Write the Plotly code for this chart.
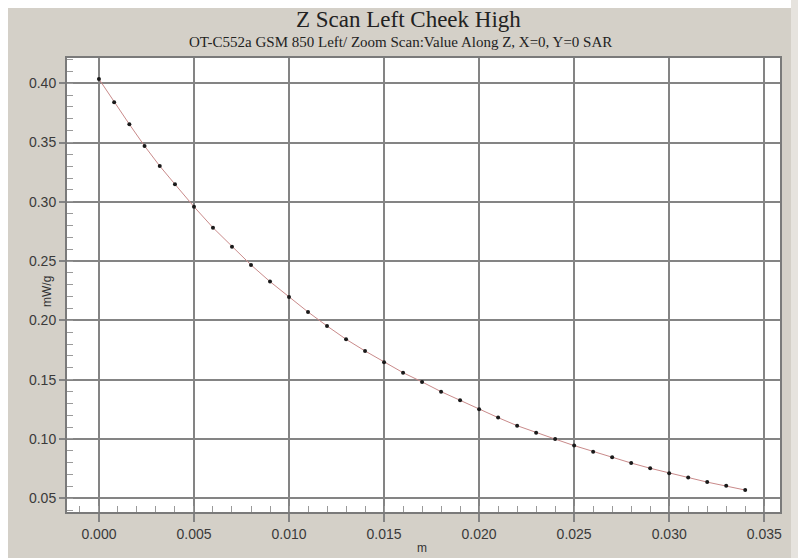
import plotly.graph_objects as go

# Data
z_m = [0.0, 0.0008, 0.0016, 0.0024, 0.0032, 0.0040, 0.005, 0.006, 0.007, 0.008,
       0.009, 0.010, 0.011, 0.012, 0.013, 0.014, 0.015, 0.016, 0.017, 0.018,
       0.019, 0.020, 0.021, 0.022, 0.023, 0.024, 0.025, 0.026, 0.027, 0.028,
       0.029, 0.030, 0.031, 0.032, 0.033, 0.034]
sar = [0.4036, 0.3840, 0.3654, 0.3471, 0.3302, 0.3148, 0.2959, 0.2782, 0.2622, 0.2468,
       0.2327, 0.2198, 0.2071, 0.1953, 0.1841, 0.1742, 0.1647, 0.1559, 0.1481, 0.1399,
       0.1326, 0.1251, 0.1180, 0.1112, 0.1053, 0.0999, 0.0944, 0.0893, 0.0846, 0.0797,
       0.0753, 0.0711, 0.0675, 0.0636, 0.0605, 0.0569]

x_ticks = [0.000, 0.005, 0.010, 0.015, 0.020, 0.025, 0.030, 0.035]
x_labels = ["0.000", "0.005", "0.010", "0.015", "0.020", "0.025", "0.030", "0.035"]
y_ticks = [0.05, 0.10, 0.15, 0.20, 0.25, 0.30, 0.35, 0.40]
y_labels = ["0.05", "0.10", "0.15", "0.20", "0.25", "0.30", "0.35", "0.40"]

title_main = "Z Scan Left Cheek High"
title_sub = "OT-C552a GSM 850 Left/ Zoom Scan:Value Along Z, X=0, Y=0 SAR"
x_title = "m"
y_title = "mW/g"

GRID = "#848484"
PANEL = "#d4d0c8"
W, H = 798, 558
L, R, T, B = 67, 18, 58, 46
PW, PH = W - L - R, H - T - B


def px_x(p):
    return (p - L) / PW


def px_y(p):
    return (H - B - p) / PH


fig = go.Figure()
fig.add_trace(go.Scatter(
    x=z_m, y=sar, mode="lines+markers",
    line=dict(color="#c98a8a", width=1),
    marker=dict(color="#1a1a1a", size=4),
    showlegend=False,
))

axis_common = dict(
    showgrid=True, gridcolor=GRID, gridwidth=2,
    showline=True, linecolor="#7a7a7a", linewidth=2, mirror=True,
    zeroline=False,
    ticks="outside", tickcolor=GRID, tickwidth=2,
    tickfont=dict(family="Liberation Sans, Arial, sans-serif", size=14, color="#3a3a3a"),
)

fig.update_xaxes(
    **axis_common,
    range=[-0.00168, 0.03583],
    tickvals=x_ticks, ticktext=x_labels, ticklen=8,
    minor=dict(dtick=0.001, tick0=0, ticks="inside", ticklen=6, tickcolor="#9a9a9a",
               tickwidth=1, showgrid=False),
)
fig.update_yaxes(
    **axis_common,
    range=[0.0384, 0.4213],
    tickvals=y_ticks, ticktext=y_labels, ticklen=6,
    minor=dict(dtick=0.01, tick0=0, ticks="inside", ticklen=6, tickcolor="#9a9a9a",
               tickwidth=1, showgrid=False),
)

white_strips = [
    dict(type="rect", xref="paper", yref="paper", x0=px_x(0), x1=px_x(W), y0=px_y(8), y1=px_y(0),
         fillcolor="white", line=dict(width=0)),
    dict(type="rect", xref="paper", yref="paper", x0=px_x(0), x1=px_x(8), y0=px_y(H), y1=px_y(0),
         fillcolor="white", line=dict(width=0)),
    dict(type="rect", xref="paper", yref="paper", x0=px_x(791), x1=px_x(W), y0=px_y(H), y1=px_y(0),
         fillcolor="#e6e3de", line=dict(width=0)),
]

fig.update_layout(
    width=W, height=H,
    margin=dict(l=L, r=R, t=T, b=B),
    paper_bgcolor=PANEL,
    plot_bgcolor="white",
    shapes=white_strips,
    annotations=[
        dict(text=title_main, xref="paper", yref="paper", x=px_x(408), y=px_y(19),
             xanchor="center", yanchor="middle", showarrow=False,
             font=dict(family="Liberation Serif, Times New Roman, serif", size=23, color="#222")),
        dict(text=title_sub, xref="paper", yref="paper", x=px_x(400), y=px_y(42),
             xanchor="center", yanchor="middle", showarrow=False,
             font=dict(family="Liberation Serif, Times New Roman, serif", size=15, color="#222")),
        dict(text=y_title, xref="paper", yref="paper", x=px_x(47), y=px_y(292), textangle=-90,
             xanchor="center", yanchor="middle", showarrow=False,
             font=dict(family="Liberation Sans, Arial, sans-serif", size=12, color="#333")),
        dict(text=x_title, xref="paper", yref="paper", x=px_x(422), y=px_y(548),
             xanchor="center", yanchor="middle", showarrow=False,
             font=dict(family="Liberation Sans, Arial, sans-serif", size=12, color="#333")),
    ],
)

fig.write_html("out.html")
